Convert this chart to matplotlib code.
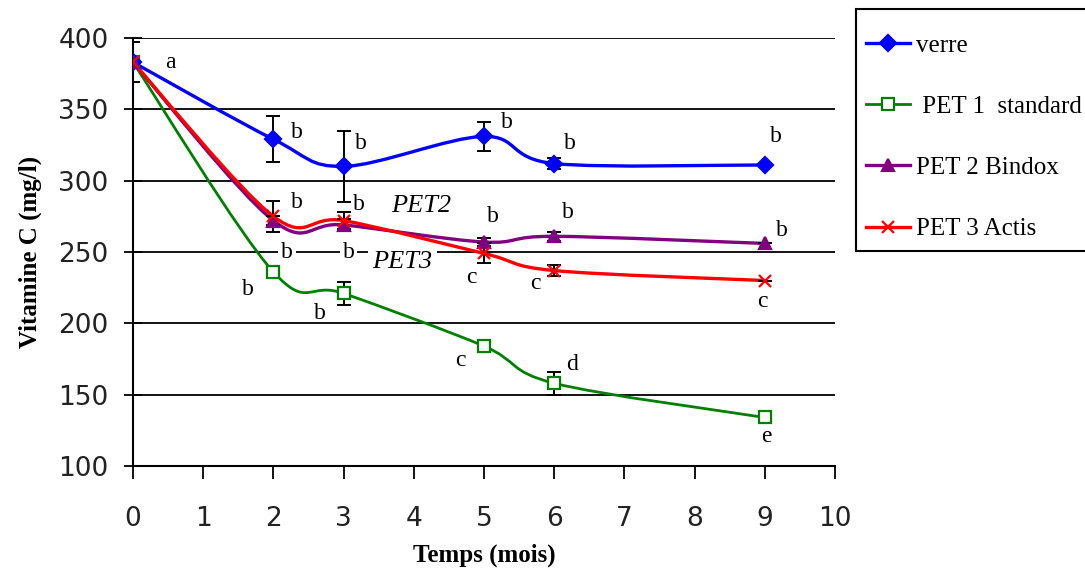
import numpy as np
import matplotlib
matplotlib.use("Agg")
import matplotlib.pyplot as plt
from matplotlib.path import Path
from matplotlib.patches import PathPatch, Rectangle
from matplotlib.lines import Line2D

# ---------------- data ----------------
months = [0, 2, 3, 5, 6, 9]
verre = [383, 329, 310, 331, 312, 311]
verre_err = [14, 16, 25, 10, 4, 0]
pet1 = [383, 236, 221, 184, 158, 134]
pet1_err = [14, 3, 8, 2, 8, 0]
pet2 = [383, 272, 269, 257, 261, 256]
pet2_err = [14, 3, 4, 3, 3, 0]
pet3 = [383, 275, 272, 249, 237, 230]
pet3_err = [14, 11, 6, 7, 4, 0]

series_names = ["verre", " PET 1  standard", "PET 2 Bindox", "PET 3 Actis"]

x_ticks = list(range(0, 11))
y_ticks = [100, 150, 200, 250, 300, 350, 400]

# significance letters: (text, x, y)
letters = [
    ("a", 0.53, 383),
    ("b", 2.33, 334), ("b", 3.24, 326), ("b", 5.33, 341), ("b", 6.22, 326), ("b", 9.16, 331),
    ("b", 2.33, 285), ("b", 3.22, 283), ("b", 5.13, 275), ("b", 6.2, 278), ("b", 9.24, 265),
    ("c", 4.82, 232), ("c", 5.73, 228), ("c", 8.97, 215),
    ("b", 1.64, 224), ("b", 2.66, 207), ("c", 4.66, 174), ("d", 6.26, 171), ("e", 9.02, 121),
]
grid_letters = [("b", 2.19, 250), ("b", 3.07, 250)]
series_tags = [("PET2", 4.11, 282), ("PET3", 3.84, 243)]

# ---------------- figure ----------------
W, H = 1085, 572
fig = plt.figure(figsize=(W / 100, H / 100), dpi=100)
ax = fig.add_axes([133 / W, 1 - 466 / H, (835 - 133) / W, (466 - 38) / H])
ax.set_xlim(0, 10)
ax.set_ylim(100, 400)

for s in ["top", "right"]:
    ax.spines[s].set_visible(False)
for s in ["left", "bottom"]:
    ax.spines[s].set_linewidth(1.5)
    ax.spines[s].set_color("black")

ax.set_yticks(y_ticks)
ax.set_xticks(x_ticks)
ax.yaxis.grid(True, color="black", linewidth=1.3)
ax.set_axisbelow(True)
ax.tick_params(axis="y", direction="inout", length=13, width=1.3, pad=11, labelsize=19)
ax.tick_params(axis="x", direction="out", length=9, width=1.3, pad=20, labelsize=19)
for lab in ax.get_xticklabels() + ax.get_yticklabels():
    lab.set_fontfamily("DejaVu Sans")
    lab.set_color("#222222")

ax.set_xlabel("Temps (mois)", fontfamily="Liberation Serif", fontweight="bold", fontsize=18, labelpad=8)
ax.set_ylabel("Vitamine C (mg/l)", fontfamily="Liberation Serif", fontweight="bold", fontsize=18, labelpad=12)


def smooth_path(xs, ys):
    pts = np.column_stack([xs, ys]).astype(float)
    n = len(pts)
    verts = [pts[0]]
    codes = [Path.MOVETO]
    for i in range(n - 1):
        p0 = pts[i - 1] if i > 0 else pts[i]
        p1 = pts[i]
        p2 = pts[i + 1]
        p3 = pts[i + 2] if i + 2 < n else pts[i + 1]
        c1 = p1 + (p2 - p0) / 6.0
        c2 = p2 - (p3 - p1) / 6.0
        verts += [c1, c2, p2]
        codes += [Path.CURVE4] * 3
    return Path(verts, codes)


styles = [
    (verre, verre_err, "#0000FF", "D", 8, "#0000FF", 2.4),
    (pet1, pet1_err, "#008000", "s", 9, "white", 2.0),
    (pet2, pet2_err, "#800080", "^", 9, "#800080", 2.4),
    (pet3, pet3_err, "#FF0000", "x", 9, "#FF0000", 2.4),
]

handles = []
order = [1, 0, 2, 3]
for idx in order:
    vals, errs, col, mk, ms, mfc, lw = styles[idx]
    patch = PathPatch(smooth_path(months, vals), facecolor="none", edgecolor=col,
                      linewidth=lw, zorder=3, capstyle="round", joinstyle="round")
    ax.add_patch(patch)
    ax.errorbar(months, vals, yerr=errs, fmt="none", ecolor="black", elinewidth=1.4,
                capsize=5, capthick=1.4, zorder=4)
    ax.plot(months, vals, linestyle="none", marker=mk, markersize=ms, color=col,
            markerfacecolor=mfc, markeredgecolor=col, markeredgewidth=1.6, zorder=5)

for idx in range(4):
    vals, errs, col, mk, ms, mfc, lw = styles[idx]
    handles.append(Line2D([0], [0], color=col, linewidth=lw, marker=mk, markersize=ms,
                          markerfacecolor=mfc, markeredgecolor=col, markeredgewidth=1.6))

for t, x, y in letters:
    ax.text(x, y, t, fontfamily="Liberation Serif", fontsize=17, ha="center", va="center", zorder=6)
for t, x, y in grid_letters:
    ax.text(x, y, t, fontfamily="Liberation Serif", fontsize=17, ha="center", va="center", zorder=6,
            bbox=dict(facecolor="white", edgecolor="none", pad=2))
for t, x, y in series_tags:
    ax.text(x, y, t, fontfamily="Liberation Serif", fontstyle="italic", fontsize=19, ha="center",
            va="center", zorder=6, bbox=dict(facecolor="white", edgecolor="none", pad=3))

# legend
fig.patches.append(Rectangle((856 / W, 1 - 251 / H), (1095 - 856) / W, (251 - 9) / H,
                             transform=fig.transFigure, facecolor="white", edgecolor="black",
                             linewidth=1.5, zorder=0))
fig.legend(handles, series_names, loc="upper left", bbox_to_anchor=(866 / W, 1 - 34 / H),
           frameon=False, numpoints=1, handlelength=1.75, handletextpad=0.25, labelspacing=1.55,
           borderpad=0, borderaxespad=0, prop={"family": "Liberation Serif", "size": 18})

fig.savefig("out.png", dpi=100)
